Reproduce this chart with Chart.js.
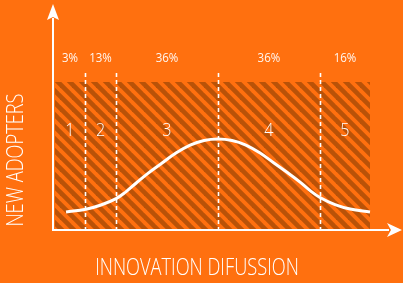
<!DOCTYPE html>
<html>
<head>
<meta charset="utf-8">
<script src="https://cdn.jsdelivr.net/npm/chart.js@4"></script>
<style>
  html, body { margin: 0; padding: 0; background: #ff700f; overflow: hidden; }
  #diffusionChart { display: block; width: 403px; height: 283px; }
</style>
</head>
<body>
<canvas id="diffusionChart" width="403" height="283"></canvas>
<script>
// ── data ──
// adopter stages: edges along the x axis (0..100 = hatched block)
const stageEdges  = [0, 9.5, 19.4, 51.7, 84.1, 100];
const stageShares = ['3%', '13%', '36%', '36%', '16%'];
const stageNames  = ['1', '2', '3', '4', '5'];

// bell curve
const curveX = [3.5, 9.8, 14.6, 19.4, 22.5, 25.7, 29.5, 34.0, 38.4, 42.9, 47.3, 51.7,
                56.2, 60.6, 65.1, 69.5, 74.0, 77.8, 81.0, 84.1, 88.9, 93.7, 100];
const curveY = [12.2, 14.0, 16.9, 21.2, 25.8, 31.6, 38.3, 45.3, 52.0, 57.4, 60.5, 61.5,
                60.5, 57.4, 52.0, 45.3, 38.5, 32.4, 26.6, 22.0, 17.2, 14.2, 12.2];

const xTitle = 'INNOVATION DIFUSSION';
const yTitle = 'NEW ADOPTERS';

const ORANGE = '#ff700f';
const STRIPE = '#b95208';
const FONT = "'Open Sans', 'Noto Sans', sans-serif";

// ── hatch pattern ──
function makeHatch(ctx) {
  const size = 12;
  const tile = document.createElement('canvas');
  tile.width = size; tile.height = size;
  const t = tile.getContext('2d');
  t.fillStyle = ORANGE;
  t.fillRect(0, 0, size, size);
  t.strokeStyle = STRIPE;
  t.lineWidth = 4.6;
  [-size, 0, size].forEach(k => {
    t.beginPath();
    t.moveTo(k - 2, -2);
    t.lineTo(k + size + 2, size + 2);
    t.stroke();
  });
  return ctx.createPattern(tile, 'repeat');
}

// narrow text (the original uses a condensed face)
function narrowText(ctx, text, x, y, squeeze) {
  ctx.save();
  ctx.translate(x, y);
  ctx.scale(squeeze, 1);
  ctx.fillText(text, 0, 0);
  ctx.restore();
}

/* ════════════════════════════
   DECORATION PLUGIN
════════════════════════════ */
const diffusionDecor = {
  id: 'diffusionDecor',
  beforeDraw(chart) {
    const { ctx, width, height } = chart;
    ctx.save();
    ctx.fillStyle = ORANGE;
    ctx.fillRect(0, 0, width, height);
    ctx.restore();
  },
  beforeDatasetsDraw(chart) {
    const { ctx, scales: { x, y } } = chart;
    const x0 = x.getPixelForValue(stageEdges[0]);
    const x1 = x.getPixelForValue(stageEdges[stageEdges.length - 1]);
    const yTop = y.getPixelForValue(100);
    const yBot = y.getPixelForValue(0);

    ctx.save();
    // hatched block
    ctx.fillStyle = makeHatch(ctx);
    ctx.fillRect(x0, yTop, x1 - x0, yBot - yTop);

    // dashed stage dividers
    ctx.strokeStyle = '#fff';
    ctx.lineWidth = 1.6;
    ctx.setLineDash([4, 3]);
    for (let i = 1; i < stageEdges.length - 1; i++) {
      const px = Math.round(x.getPixelForValue(stageEdges[i])) + 0.5;
      ctx.beginPath();
      ctx.moveTo(px, y.getPixelForValue(106));
      ctx.lineTo(px, yBot);
      ctx.stroke();
    }
    ctx.setLineDash([]);

    // labels
    ctx.textAlign = 'center';
    ctx.textBaseline = 'middle';
    for (let i = 0; i < stageShares.length; i++) {
      const mid = x.getPixelForValue((stageEdges[i] + stageEdges[i + 1]) / 2);
      ctx.fillStyle = 'rgba(255,255,255,0.95)';
      ctx.font = '12.5px ' + FONT;
      narrowText(ctx, stageShares[i], mid, y.getPixelForValue(116), 0.92);
      ctx.fillStyle = '#fff';
      ctx.font = '300 19px ' + FONT;
      narrowText(ctx, stageNames[i], mid, y.getPixelForValue(67), 0.85);
    }
    ctx.restore();
  },
  afterDraw(chart) {
    const { ctx, width, scales: { x, y } } = chart;
    const ax = x.getPixelForValue(stageEdges[0]) - 2;
    const ay = y.getPixelForValue(0);

    ctx.save();
    ctx.strokeStyle = '#fff';
    ctx.fillStyle = '#fff';
    ctx.lineWidth = 2;

    // y axis + arrow
    ctx.beginPath();
    ctx.moveTo(ax, ay + 1);
    ctx.lineTo(ax, 18);
    ctx.stroke();
    ctx.beginPath();
    ctx.moveTo(ax, 4);
    ctx.lineTo(ax + 6, 20);
    ctx.lineTo(ax, 17);
    ctx.lineTo(ax - 6, 20);
    ctx.closePath();
    ctx.fill();

    // x axis + arrow
    ctx.beginPath();
    ctx.moveTo(ax - 1, ay);
    ctx.lineTo(width - 14, ay);
    ctx.stroke();
    ctx.beginPath();
    ctx.moveTo(width - 1, ay);
    ctx.lineTo(width - 16, ay - 7);
    ctx.lineTo(width - 12, ay);
    ctx.lineTo(width - 16, ay + 7);
    ctx.closePath();
    ctx.fill();

    // axis titles
    ctx.font = '300 24px ' + FONT;
    ctx.textAlign = 'center';
    ctx.textBaseline = 'middle';
    narrowText(ctx, xTitle, 197, 268, 0.76);
    ctx.translate(16, 160);
    ctx.rotate(-Math.PI / 2);
    narrowText(ctx, yTitle, 0, 0, 0.76);
    ctx.restore();
  }
};

/* ════════════════════════════
   CHART
════════════════════════════ */
function initDiffusionChart() {
  const canvas = document.getElementById('diffusionChart');
  new Chart(canvas, {
    type: 'line',
    data: {
      datasets: [{
        data: curveX.map((v, i) => ({ x: v, y: curveY[i] })),
        borderColor: '#fff',
        borderWidth: 3,
        pointRadius: 0,
        fill: false,
        tension: 0.4,
        clip: false
      }]
    },
    options: {
      responsive: false,
      maintainAspectRatio: false,
      animation: false,
      layout: { padding: { left: 55, right: 33, top: 82, bottom: 53 } },
      plugins: { legend: { display: false }, tooltip: { enabled: false } },
      scales: {
        x: { type: 'linear', min: 0, max: 100, display: false },
        y: { min: 0, max: 100, display: false }
      }
    },
    plugins: [diffusionDecor]
  });
}

initDiffusionChart();
</script>
</body>
</html>
